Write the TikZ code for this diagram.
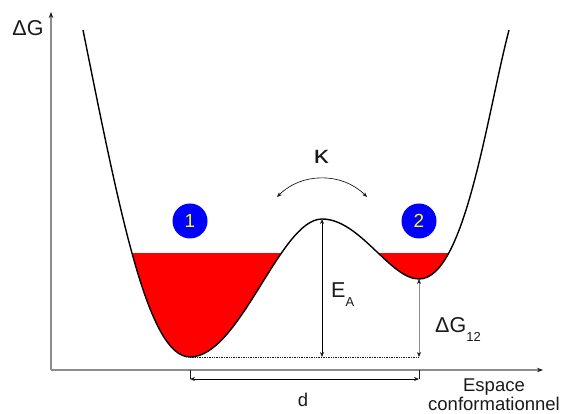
\documentclass[tikz,border=0pt]{standalone}
\usepackage{fontspec}
\setmainfont{Liberation Sans}
\usetikzlibrary{arrows.meta,positioning}
\definecolor{pwred}{HTML}{FF0000}
\definecolor{pwblue}{HTML}{0000FF}
\definecolor{pwyel}{HTML}{FFFF00}
\definecolor{pwaxis}{HTML}{8C8C8C}
\definecolor{pwink}{HTML}{1A1A1A}
\tikzset{
  axe/.style={draw=pwaxis,line width=1.1pt,-{Stealth[length=6pt,width=4.5pt,color=pwink]}},
  well/.style={circle,fill=pwblue,minimum size=35pt,inner sep=0pt,text=pwyel,
              font=\fontsize{19}{19}\selectfont},
  dim/.style={{Stealth[length=5pt,width=4pt,color=pwink]}-{Stealth[length=5pt,width=4pt,color=pwink]},
              line width=0.7pt},
  lbl/.style={font=\fontsize{18.5}{19}\selectfont,inner sep=0pt,text=pwink},
  big/.style={font=\fontsize{21.5}{22}\selectfont,inner sep=0pt,text=pwink},
  prof/.style={line width=1.4pt,draw=black},
}
\newcommand{\pwsub}[1]{\raisebox{-0.4em}{\fontsize{13}{13}\selectfont #1}}
\newcommand{\pwprofile}{(top1) .. controls (120,200) and (148,57) .. (min1)
    .. controls (240,57) and (280,195) .. (barr)
    .. controls (360,195) and (390,135) .. (min2)
    .. controls (465,135) and (487,300) .. (top2)}

\begin{document}
\begin{tikzpicture}[x=1pt,y=1pt]
  \useasboundingbox (0,0) rectangle (564,414);
  % key points of the profile
  \coordinate (top1) at (83,384);
  \coordinate (min1) at (190,57);
  \coordinate (barr) at (322,195);
  \coordinate (min2) at (419,135);
  \coordinate (top2) at (509,384);
  \coordinate (orig) at (51,44);
  \coordinate (dbase) at (0,35);

  % ---------- filled wells ----------
  \begin{scope}
    \clip (0,0) rectangle (564,160);
    \fill[pwred] \pwprofile -- cycle;
  \end{scope}
  \draw[prof] \pwprofile;

  % ---------- axes ----------
  \draw[axe] (orig) -- (51,402);
  \draw[axe] (orig) -- (543,44);
  \node[big] at (28,386) {ΔG};
  \node[lbl,align=center] (xlab) at (494,19) {Espace\\conformationnel};

  % ---------- states ----------
  \node[well] (w1) at (190,193) {1};
  \node[well] (w2) at (419,193) {2};
  \coordinate (kl) at (277,217);
  \coordinate (kr) at (367,217);
  \draw[dim,line width=0.6pt] (kl) to[bend left=45] (kr);
  \node[big,font=\fontsize{25}{25}\selectfont] (kap) at (321,257) {\scalebox{1.2}[1]{κ}};

  % ---------- dimensions ----------
  \draw[densely dotted,line width=0.7pt,pwink] (min1) -- (min1 -| min2);
  \draw[dim] (barr) -- (barr |- min1);
  \draw[dim,draw=pwaxis] (min2) -- (min2 |- min1);
  \node[big,anchor=base west] (ea) at (331,116.5) {E\pwsub{A}};
  \node[big,anchor=base west] (dg) at (435,81) {ΔG\pwsub{12}};
  \draw[pwink,line width=0.7pt] (min1 |- orig) -- (min1 |- dbase);
  \draw[pwink,line width=0.7pt] (min2 |- orig) -- (min2 |- dbase);
  \draw[dim] (min1 |- dbase) -- (min2 |- dbase);
  \node[lbl] (dl) at (303,14) {d};
\end{tikzpicture}
\end{document}
